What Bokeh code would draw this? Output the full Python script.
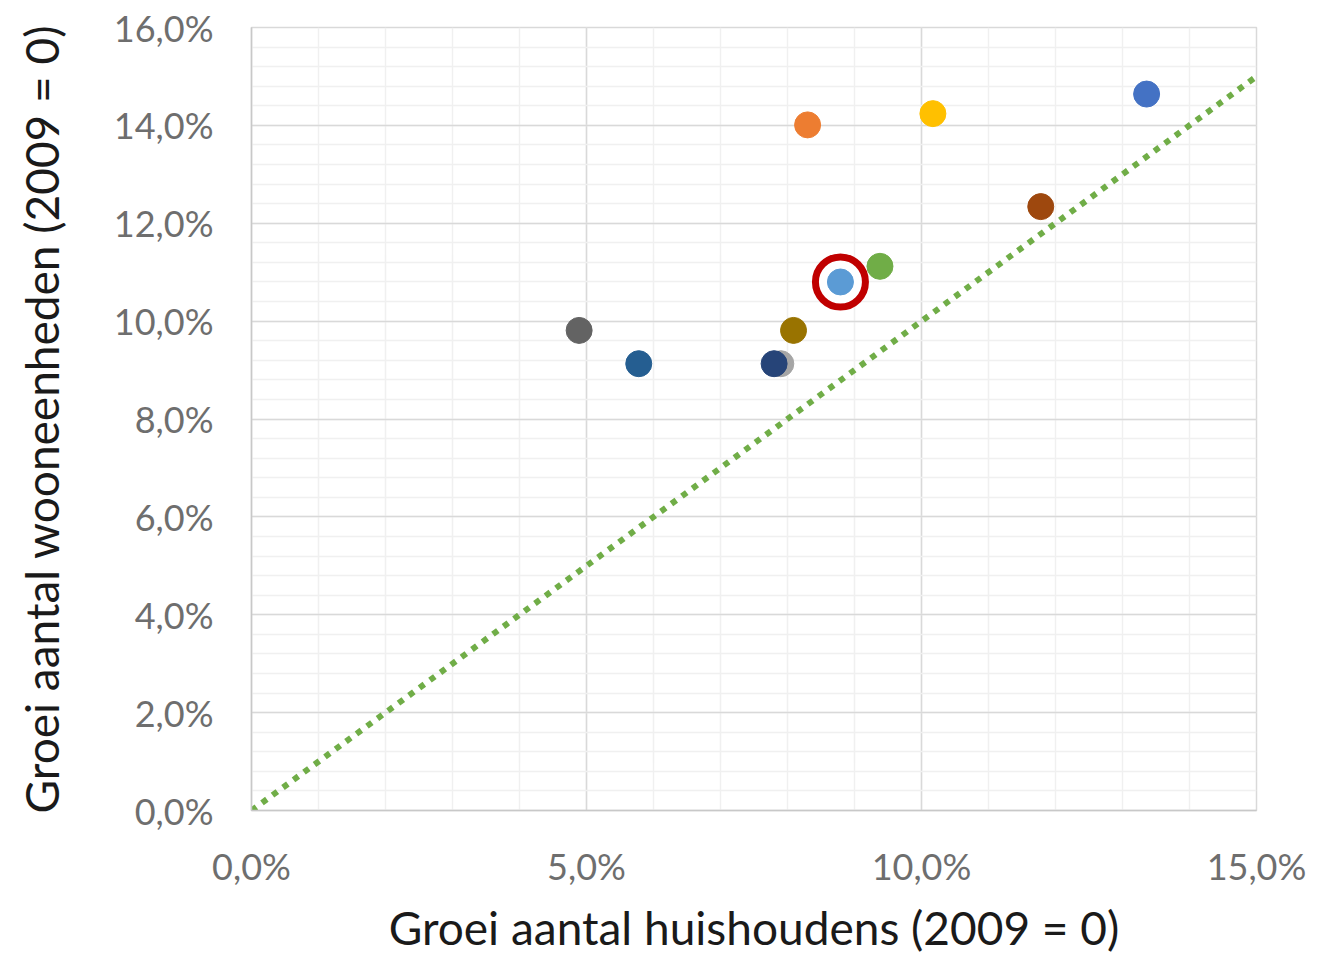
from bokeh.plotting import figure
from bokeh.models import Range1d, FixedTicker, ColumnDataSource
from bokeh.embed import file_html
from bokeh.resources import INLINE

# Data (percent growth since 2009)
huishoudens = [4.89, 5.78, 7.90, 7.80, 8.09, 8.30, 8.79, 9.38, 10.17, 11.78, 13.36]
wooneenheden = [9.81, 9.13, 9.13, 9.13, 9.81, 14.01, 10.80, 11.12, 14.24, 12.34, 14.64]
kleuren = ["#636363", "#255E91", "#A5A5A5", "#264478", "#997300", "#ED7D31",
           "#5B9BD5", "#70AD47", "#FFC000", "#9E480E", "#4472C4"]
highlight_index = 6

diag_x = [0, 15]
diag_y = [0, 15]

x_ticks = [0, 5, 10, 15]
x_tick_labels = ["0,0%", "5,0%", "10,0%", "15,0%"]
y_ticks = [0, 2, 4, 6, 8, 10, 12, 14, 16]
y_tick_labels = ["0,0%", "2,0%", "4,0%", "6,0%", "8,0%", "10,0%", "12,0%", "14,0%", "16,0%"]
x_minor = list(range(0, 16))
y_minor = [round(i * 0.4, 1) for i in range(0, 41)]

FONT = "Lato"

p = figure(frame_width=1005, frame_height=783,
           x_range=Range1d(0, 15), y_range=Range1d(0, 16),
           output_backend="svg", toolbar_location=None,
           min_border_left=251, min_border_top=27,
           min_border_right=60, min_border_bottom=149)
p.background_fill_color = "white"
p.border_fill_color = "white"
p.outline_line_color = "#d9d9d9"
p.outline_line_width = 1.5

xt = FixedTicker(ticks=x_ticks, minor_ticks=x_minor)
yt = FixedTicker(ticks=y_ticks, minor_ticks=y_minor)
p.xaxis.ticker = xt
p.yaxis.ticker = yt
p.xgrid.ticker = xt
p.ygrid.ticker = yt

p.xaxis.major_label_overrides = {t: l for t, l in zip(x_ticks, x_tick_labels)}
p.yaxis.major_label_overrides = {t: l for t, l in zip(y_ticks, y_tick_labels)}

for g in (p.xgrid, p.ygrid):
    g.grid_line_color = "#d9d9d9"
    g.grid_line_width = 1.5
    g.minor_grid_line_color = "#f0f0f0"
    g.minor_grid_line_width = 1.5

for ax in (p.xaxis, p.yaxis):
    ax.axis_line_color = "#c8c8c8"
    ax.axis_line_width = 1.5
    ax.major_tick_line_color = None
    ax.minor_tick_line_color = None
    ax.major_tick_out = 0
    ax.major_tick_in = 0
    ax.minor_tick_out = 0
    ax.minor_tick_in = 0
    ax.major_label_text_font = FONT
    ax.major_label_text_font_size = "36px"
    ax.major_label_text_color = "#6e6e6e"
    ax.axis_label_text_font = FONT
    ax.axis_label_text_font_size = "46px"
    ax.axis_label_text_font_style = "normal"
    ax.axis_label_text_color = "#1a1a1a"

p.xaxis.major_label_standoff = 33
p.yaxis.major_label_standoff = 38
p.xaxis.axis_label = "Groei aantal huishoudens (2009 = 0)"
p.yaxis.axis_label = "Groei aantal wooneenheden (2009 = 0)"
p.xaxis.axis_label_standoff = 9
p.yaxis.axis_label_standoff = 42

# diagonal reference line
p.line(diag_x, diag_y, line_color="#70AD47", line_width=6, line_dash="6 7")

# highlight ring
p.scatter([huishoudens[highlight_index]], [wooneenheden[highlight_index]],
          size=50, fill_color="white", line_color="#C00000", line_width=7)

src = ColumnDataSource(dict(x=huishoudens, y=wooneenheden, c=kleuren))
p.scatter("x", "y", source=src, size=26, fill_color="c", line_color="c",
          line_width=1)

open("out.html", "w").write(file_html(p, INLINE))
